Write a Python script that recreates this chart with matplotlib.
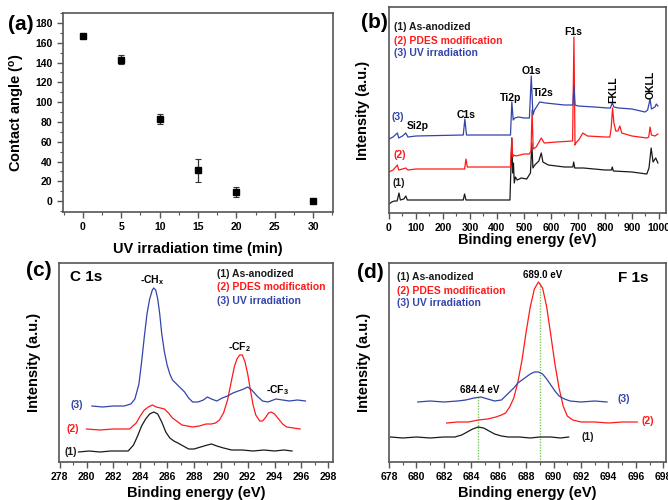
import matplotlib
matplotlib.use("Agg")
import matplotlib.pyplot as plt
from matplotlib.ticker import MultipleLocator, NullLocator

plt.rcParams['font.family'] = ['Liberation Sans', 'DejaVu Sans']
plt.rcParams['font.weight'] = 'bold'
plt.rcParams['axes.labelweight'] = 'bold'
plt.rcParams['mathtext.default'] = 'regular'

# (a) contact angle vs UV time
uv_time = [0, 5, 10, 15, 20, 30]
contact_angle = [167, 143, 83, 31, 9, 0]
angle_err = [1.5, 4.5, 5, 12, 5, 1]

# (b) survey spectra (energy eV, intensity a.u.)
surv1_e = [0, 10, 20, 30, 37, 42, 55, 62, 68, 80, 150, 275, 280, 285, 290, 440, 448, 455, 458, 461,
           464, 468, 475, 490, 510, 524, 529, 533, 540, 555, 564, 570, 590, 650, 681, 684, 688, 720,
           800, 824, 827, 831, 900, 955, 963, 971, 978, 988, 996]
surv1_i = [9, 11, 12, 12, 20, 13, 14, 17, 13, 13, 13, 13, 19, 13, 13, 13, 13, 75, 40, 50,
           30, 36, 33, 35, 34, 40, 70, 45, 48, 52, 60, 51, 48, 46, 46, 51, 45, 45,
           43, 43, 46, 42, 41, 39, 45, 65, 51, 55, 50]
surv2_e = [0, 15, 31, 36, 50, 62, 70, 100, 280, 285, 290, 440, 450, 455, 458, 462, 470, 500, 520,
           526, 530, 534, 545, 564, 575, 620, 680, 685, 689, 692, 705, 718, 735, 800, 818, 823,
           828, 833, 840, 848, 855, 862, 900, 955, 962, 967, 972, 985, 996]
surv2_i = [41, 43, 48, 43, 44, 45, 43, 44, 44, 54, 46, 46, 46, 75, 56, 58, 57, 59, 59,
           62, 103, 64, 66, 75, 70, 71, 72, 176, 68, 70, 74, 80, 77, 76, 76, 85,
           105, 90, 82, 82, 87, 80, 77, 75, 76, 86, 78, 77, 79]
surv3_e = [0, 15, 31, 36, 50, 62, 70, 100, 275, 281, 287, 440, 450, 455, 460, 466, 480, 500, 520,
           527, 533, 539, 558, 580, 650, 681, 685, 689, 700, 760, 810, 820, 827, 833, 850, 900,
           948, 958, 967, 972, 985, 990, 996]
surv3_i = [74, 76, 80, 75, 77, 80, 76, 77, 78, 94, 78, 78, 78, 111, 93, 95, 96, 95, 95,
           137, 98, 103, 111, 110, 108, 108, 127, 108, 107, 106, 105, 105, 110, 106, 105, 104,
           101, 103, 114, 104, 106, 109, 107]

# (c) C 1s
c1_e = [279.4, 280.2, 281.0, 281.8, 282.6, 283.1, 283.5, 283.8, 284.1, 284.4, 284.7, 285.0, 285.3,
        285.6, 285.9, 286.2, 286.5, 286.8, 287.2, 287.6, 288.0, 288.5, 289.0, 289.3, 289.7, 290.2,
        290.8, 291.6, 292.4, 293.2, 294.0, 294.7, 295.3]
c1_i = [10, 11, 10, 11, 11, 11, 17, 26, 36, 43, 48, 50, 48,
        40, 30, 24, 21, 19, 16, 13, 13, 15, 17, 18, 16, 14,
        12, 12, 11, 12, 11, 12, 11]
c2_e = [280.0, 281.0, 282.0, 282.8, 283.2, 283.7, 284.0, 284.3, 284.6, 284.9, 285.2, 285.5, 285.8,
        286.1, 286.4, 286.8, 287.1, 287.5, 287.9, 288.4, 288.9, 289.3, 289.6, 289.9, 290.2, 290.5,
        290.8, 291.0, 291.2, 291.4, 291.6, 291.8, 292.0, 292.2, 292.4, 292.6, 292.9, 293.1, 293.3,
        293.55, 293.75, 294.0, 294.3, 294.6, 294.9, 295.4, 295.9]
c2_i = [33, 32, 33, 33, 33, 39, 46, 52, 55, 57, 55, 54, 53,
        49, 44, 40, 37, 36, 35, 36, 38, 38, 39, 42, 49, 62,
        82, 95, 103, 107, 107, 100, 88, 72, 57, 47, 41, 41, 44,
        49, 50, 48, 43, 38, 35, 34, 33]
c3_e = [280.4, 281.2, 282.0, 282.8, 283.3, 283.6, 283.9, 284.1, 284.3, 284.5, 284.7, 284.9, 285.0,
        285.15, 285.3, 285.45, 285.6, 285.8, 286.0, 286.2, 286.4, 286.7, 287.0, 287.3, 287.6,
        287.9, 288.3, 288.7, 289.0, 289.3, 289.7, 290.1, 290.5, 290.9, 291.3, 291.7, 292.0,
        292.3, 292.7, 293.1, 293.5, 294.1, 294.6, 295.1, 295.7, 296.3]
c3_i = [56, 55, 56, 56, 58, 63, 78, 100, 125, 148, 163, 172, 174,
        172, 163, 148, 128, 110, 97, 88, 82, 78, 74, 70, 64,
        60, 60, 62, 65, 63, 61, 64, 66, 69, 71, 73, 75,
        72, 66, 61, 60, 63, 62, 61, 62, 61]

# (d) F 1s
f1_e = [678.1, 679.0, 680.0, 681.0, 682.0, 682.8, 683.3, 683.7, 684.1, 684.5, 684.9, 685.3, 685.7,
        686.2, 686.7, 687.5, 688.3, 689.0, 689.8, 690.5, 691.1]
f1_i = [25, 24, 25, 24, 25, 25, 27, 30, 33, 35, 34, 31, 28,
        26, 25, 25, 24, 25, 25, 24, 25]
f2_e = [682.2, 683.0, 683.8, 684.5, 685.2, 685.8, 686.2, 686.5, 686.8, 687.1, 687.4, 687.7, 688.0,
        688.3, 688.6, 688.9, 689.2, 689.5, 689.8, 690.1, 690.4, 690.7, 691.0, 691.4, 692.0,
        693.0, 694.0, 695.0, 696.1]
f2_i = [39, 40, 40, 42, 43, 45, 47, 49, 55, 64, 80, 102, 130,
        155, 173, 180, 174, 155, 127, 98, 74, 56, 46, 42, 40,
        40, 39, 40, 40]
f3_e = [680.1, 681.0, 682.0, 683.0, 683.6, 684.2, 684.7, 685.2, 685.7, 686.2, 686.5, 686.8, 687.1,
        687.4, 687.7, 688.0, 688.3, 688.6, 688.9, 689.2, 689.5, 689.8, 690.1, 690.4, 690.8,
        691.2, 692.0, 693.0, 693.9]
f3_i = [60, 61, 60, 61, 62, 64, 65, 63, 61, 62, 66, 70, 74,
        79, 82, 85, 88, 90, 90, 88, 83, 77, 71, 66, 63,
        61, 60, 61, 60]
f_lines = [684.5, 689.0]
f_line_top = [65, 179]

legend_text = ['(1) As-anodized', '(2) PDES modification', '(3) UV irradiation']
BLACK, RED, BLUE, GREEN = '#1a1a1a', '#ff1a1a', '#3344aa', '#77cc55'
FRAME = '#555555'

W, H = 668, 500
fig = plt.figure(figsize=(6.68, 5.0), dpi=100)


def box(l, t, r, b):
    return [l / W, 1 - b / H, (r - l) / W, (b - t) / H]


def style(ax):
    for s in ax.spines.values():
        s.set_color(FRAME)
        s.set_linewidth(1.2)
    ax.tick_params(which='both', direction='out', colors=FRAME, labelcolor='black',
                   labelsize=7.5, top=False, right=False)
    ax.tick_params(which='major', length=4, width=1)
    ax.tick_params(which='minor', length=2, width=0.8)


# ---- (a)
ax = fig.add_axes(box(63, 13, 333, 212))
ax.errorbar(uv_time, contact_angle, yerr=angle_err, fmt='s', color='black', ms=4.5,
            ecolor='#333333', elinewidth=0.9, capsize=2, capthick=0.8)
ax.set_xlim(-2.6, 32.6)
ax.set_ylim(-11, 190)
ax.xaxis.set_major_locator(MultipleLocator(5))
ax.xaxis.set_minor_locator(MultipleLocator(2.5))
ax.yaxis.set_major_locator(MultipleLocator(20))
ax.yaxis.set_minor_locator(MultipleLocator(10))
style(ax)
ax.set_xlabel('UV irradiation time (min)', fontsize=10.5)
ax.set_ylabel('Contact angle ($^{o}$)', fontsize=10.5)
ax.xaxis.set_label_coords(0.5, -0.15)
ax.yaxis.set_label_coords(-0.135, 0.5)

# ---- (b)
ax = fig.add_axes(box(389, 7, 666, 213))
ax.plot(surv1_e, surv1_i, color=BLACK, lw=0.9)
ax.plot(surv2_e, surv2_i, color=RED, lw=0.9)
ax.plot(surv3_e, surv3_i, color=BLUE, lw=0.9)
ax.set_xlim(0, 1026)
ax.set_ylim(0, 206)
ax.xaxis.set_major_locator(MultipleLocator(100))
ax.xaxis.set_minor_locator(MultipleLocator(50))
ax.yaxis.set_major_locator(NullLocator())
style(ax)
ax.set_xlabel('Binding energy (eV)', fontsize=10.5)
ax.set_ylabel('Intensity (a.u.)', fontsize=10.5)
ax.xaxis.set_label_coords(0.5, -0.095)
ax.yaxis.set_label_coords(-0.068, 0.5)
for txt, y, c in zip(legend_text, [186, 172, 160], [BLACK, RED, BLUE]):
    ax.text(17, y, txt, color=c, fontsize=7.5, va='center')
fs = 7.5
ax.text(684, 181, 'F1s', fontsize=fs, ha='center', va='center')
ax.text(528, 142, 'O1s', fontsize=fs, ha='center', va='center')
ax.text(572, 120, 'Ti2s', fontsize=fs, ha='center', va='center')
ax.text(449, 115, 'Ti2p', fontsize=fs, ha='center', va='center')
ax.text(285, 98, 'C1s', fontsize=fs, ha='center', va='center')
ax.text(67, 87, 'Si2p', fontsize=fs, ha='left', va='center')
ax.text(830, 123, 'FKLL', fontsize=fs, ha='center', va='center', rotation=90)
ax.text(969, 128, 'OKLL', fontsize=fs, ha='center', va='center', rotation=90)
ax.text(33, 96, '(3)', fontsize=fs, color=BLUE, ha='center', va='center')
ax.text(40, 58, '(2)', fontsize=fs, color=RED, ha='center', va='center')
ax.text(37, 30, '(1)', fontsize=fs, color=BLACK, ha='center', va='center')

# ---- (c)
ax = fig.add_axes(box(59, 263, 333, 462))
ax.plot(c1_e, c1_i, color=BLACK, lw=0.9)
ax.plot(c2_e, c2_i, color=RED, lw=0.9)
ax.plot(c3_e, c3_i, color=BLUE, lw=0.9)
ax.set_xlim(277.95, 298.35)
ax.set_ylim(0, 199)
ax.xaxis.set_major_locator(MultipleLocator(2))
ax.xaxis.set_minor_locator(MultipleLocator(1))
ax.yaxis.set_major_locator(NullLocator())
style(ax)
ax.set_xlabel('Binding energy (eV)', fontsize=10.5)
ax.set_ylabel('Intensity (a.u.)', fontsize=10.5)
ax.xaxis.set_label_coords(0.5, -0.12)
ax.yaxis.set_label_coords(-0.066, 0.5)
for txt, y, c in zip(legend_text, [188, 175, 161], [BLACK, RED, BLUE]):
    ax.text(289.7, y, txt, color=c, fontsize=7.5, va='center')
ax.text(278.75, 185, 'C 1s', fontsize=11, va='center')
ax.text(284.9, 182, '-CH$_x$', fontsize=7.5, ha='center', va='center')
ax.text(291.4, 115, '-CF$_2$', fontsize=7.5, ha='center', va='center')
ax.text(294.2, 72, '-CF$_3$', fontsize=7.5, ha='center', va='center')
ax.text(278.8, 10, '(1)', fontsize=fs, color=BLACK, ha='center', va='center')
ax.text(279.0, 33, '(2)', fontsize=fs, color=RED, ha='center', va='center')
ax.text(279.3, 57, '(3)', fontsize=fs, color=BLUE, ha='center', va='center')

# ---- (d)
ax = fig.add_axes(box(389, 263, 666, 462))
for x, top in zip(f_lines, f_line_top):
    ax.plot([x, x], [0, top], color=GREEN, lw=1, ls=(0, (1, 1)))
ax.plot(f1_e, f1_i, color=BLACK, lw=0.9)
ax.plot(f2_e, f2_i, color=RED, lw=0.9)
ax.plot(f3_e, f3_i, color=BLUE, lw=0.9)
ax.set_xlim(678, 698.2)
ax.set_ylim(0, 199)
ax.xaxis.set_major_locator(MultipleLocator(2))
ax.xaxis.set_minor_locator(MultipleLocator(1))
ax.yaxis.set_major_locator(NullLocator())
style(ax)
ax.set_xlabel('Binding energy (eV)', fontsize=10.5)
ax.set_ylabel('Intensity (a.u.)', fontsize=10.5)
ax.xaxis.set_label_coords(0.5, -0.12)
ax.yaxis.set_label_coords(-0.066, 0.5)
for txt, y, c in zip(legend_text, [185, 171, 159], [BLACK, RED, BLUE]):
    ax.text(678.6, y, txt, color=c, fontsize=7.5, va='center')
ax.text(689.2, 187, '689.0 eV', fontsize=7, ha='center', va='center')
ax.text(684.6, 72, '684.4 eV', fontsize=7, ha='center', va='center')
ax.text(695.8, 184, 'F 1s', fontsize=11, ha='center', va='center')
ax.text(692.5, 25, '(1)', fontsize=fs, color=BLACK, ha='center', va='center')
ax.text(696.9, 41, '(2)', fontsize=fs, color=RED, ha='center', va='center')
ax.text(695.1, 63, '(3)', fontsize=fs, color=BLUE, ha='center', va='center')

# panel letters
for lab, px, py in [('(a)', 21, 24), ('(b)', 374, 23), ('(c)', 39, 271), ('(d)', 370, 272)]:
    fig.text(px / W, 1 - py / H, lab, fontsize=15, ha='center', va='center')

fig.savefig('out.png', dpi=100)
